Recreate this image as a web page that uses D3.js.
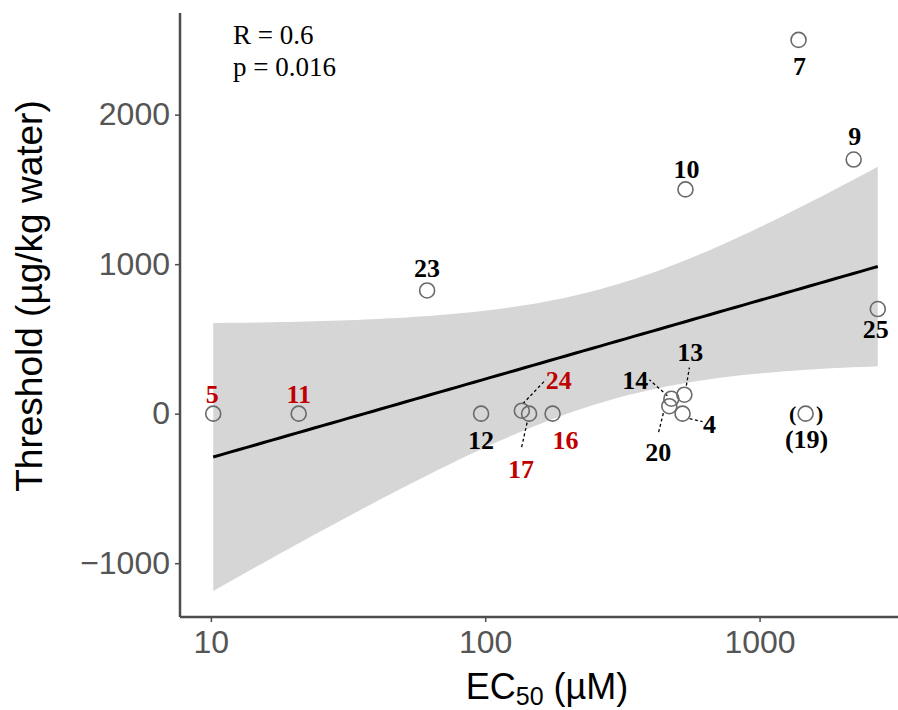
<!DOCTYPE html>
<html>
<head>
<meta charset="utf-8">
<script src="https://cdn.jsdelivr.net/npm/d3@7"></script>
<style>
  html, body { margin: 0; padding: 0; background: #ffffff; }
  svg { display: block; }
</style>
</head>
<body>
<svg id="chart" width="898" height="710"></svg>
<script>
// ---------------- data ----------------
const compounds = ["5", "11", "23", "12", "24", "17", "16", "10", "14", "20", "13", "4", "19", "7", "9", "25"];
const ec50 = [10.2, 20.9, 61.4, 96.6, 136, 144.5, 176, 537, 477, 469, 532, 524, 1472, 1387, 2203, 2697];
const threshold = [0, 0, 824, 0, 20, 0, 0, 1500, 100, 50, 127, 0, 0, 2500, 1700, 700];
const redCompounds = ["5", "11", "24", "17", "16"];
const bracketed = ["19"];
const xTicks = [10, 100, 1000];
const yTicks = [-1000, 0, 1000, 2000];
const statLines = ["R = 0.6", "p = 0.016"];

// ---------------- layout (label placement, pixels relative to point) ----------------
const labelLayout = {
  "5":  {dx: -1, dy: -11}, "11": {dx: 0, dy: -11}, "23": {dx: 0, dy: -13},
  "12": {dx: 0, dy: 35},   "24": {dx: 37, dy: -22}, "17": {dx: -8, dy: 64},
  "16": {dx: 13, dy: 35},  "10": {dx: 1, dy: -11},  "14": {dx: -36, dy: -10},
  "20": {dx: -11, dy: 55}, "13": {dx: 6, dy: -34},  "4":  {dx: 27, dy: 19},
  "19": {dx: 1, dy: 34},   "7":  {dx: 1, dy: 35},   "9":  {dx: 1, dy: -15},
  "25": {dx: -2, dy: 29}
};
const leaderLayout = {
  "14": [-4, -3, -22, -19], "13": [2, -9, 5, -27], "20": [-6, 7, -11, 27],
  "4": [7, 5, 20, 8], "24": [1, -7, 24, -31], "17": [-2, 9, -8, 36]
};

const W = 898, H = 710;
const panel = {left: 180, right: 911, top: 13, bottom: 617};

const svg = d3.select("#chart");
svg.append("rect").attr("width", W).attr("height", H).attr("fill", "#ffffff");

const pts = compounds.map((c, i) => ({id: c, x: ec50[i], y: threshold[i]}));

// ---------------- linear fit y ~ log10(x) with 95% CI ----------------
const lx = pts.map(d => Math.log10(d.x));
const n = pts.length;
const mx = d3.mean(lx), my = d3.mean(pts, d => d.y);
let sxx = 0, sxy = 0;
pts.forEach((d, i) => { sxx += (lx[i] - mx) ** 2; sxy += (lx[i] - mx) * (d.y - my); });
const slope = sxy / sxx, intercept = my - slope * mx;
let sse = 0;
pts.forEach((d, i) => { sse += (d.y - (intercept + slope * lx[i])) ** 2; });
const s = Math.sqrt(sse / (n - 2));
const tCrit = 2.1448; // t(0.975, df = 14)
const lxMin = d3.min(lx), lxMax = d3.max(lx);
const fit = d3.range(80).map(k => {
  const L = lxMin + (lxMax - lxMin) * k / 79;
  const yh = intercept + slope * L;
  const se = s * Math.sqrt(1 / n + (L - mx) ** 2 / sxx);
  return {x: Math.pow(10, L), y: yh, lo: yh - tCrit * se, hi: yh + tCrit * se};
});

// ---------------- scales ----------------
const xpad = (lxMax - lxMin) * 0.05;
const x = d3.scaleLog()
  .domain([Math.pow(10, lxMin - xpad), Math.pow(10, lxMax + xpad)])
  .range([panel.left, panel.right]);
const y = d3.scaleLinear()
  .domain([-1360, 2680])
  .range([panel.bottom, panel.top]);

// ---------------- band & line ----------------
svg.append("path")
  .datum(fit)
  .attr("d", d3.area().x(d => x(d.x)).y0(d => y(d.lo)).y1(d => y(d.hi)))
  .attr("fill", "#d6d6d6");
svg.append("path")
  .datum(fit)
  .attr("d", d3.line().x(d => x(d.x)).y(d => y(d.y)))
  .attr("fill", "none").attr("stroke", "#000").attr("stroke-width", 3);

// ---------------- axes ----------------
const axisColor = "#4d4d4d";
const gx = svg.append("g").attr("transform", `translate(0,${panel.bottom})`)
  .call(d3.axisBottom(x).tickValues(xTicks).tickFormat(d3.format("d")).tickSize(5).tickSizeOuter(0).tickPadding(8));
const gy = svg.append("g").attr("transform", `translate(${panel.left},0)`)
  .call(d3.axisLeft(y).tickValues(yTicks).tickFormat(d => d < 0 ? "\u2212" + Math.abs(d) : d).tickSize(5).tickSizeOuter(0).tickPadding(5));
[gx, gy].forEach(g => {
  g.select(".domain").attr("stroke", axisColor).attr("stroke-width", 2.5);
  g.selectAll(".tick line").attr("stroke", axisColor).attr("stroke-width", 1.5);
  g.selectAll(".tick text").attr("fill", "#555555")
    .style("font-family", "'Liberation Sans', Arial, sans-serif").style("font-size", "32px");
});
gx.select(".domain").attr("d", `M${panel.left},0H${W}`);
gy.select(".domain").attr("d", `M0,${panel.top}V${panel.bottom}`);

// axis titles
const xt = svg.append("text")
  .attr("x", 547).attr("y", 699).attr("text-anchor", "middle")
  .style("font-family", "'Liberation Sans', Arial, sans-serif").style("font-size", "36px").attr("fill", "#000");
xt.append("tspan").text("EC");
xt.append("tspan").attr("dy", 6).style("font-size", "25px").text("50");
xt.append("tspan").attr("dy", -6).text(" (\u00b5M)");

svg.append("text")
  .attr("transform", "translate(42,296) rotate(-90)")
  .attr("text-anchor", "middle")
  .style("font-family", "'Liberation Sans', Arial, sans-serif").style("font-size", "37px").attr("fill", "#000")
  .text("Threshold (\u00b5g/kg water)");

// ---------------- stats text ----------------
svg.selectAll("text.stat").data(statLines).join("text")
  .attr("class", "stat")
  .attr("x", 233).attr("y", (d, i) => 44 + i * 32)
  .style("font-family", "'Liberation Serif', 'Times New Roman', serif").style("font-size", "27px")
  .attr("fill", "#000").text(d => d);

// ---------------- leader lines ----------------
svg.selectAll("line.leader").data(pts.filter(d => leaderLayout[d.id])).join("line")
  .attr("class", "leader")
  .attr("x1", d => x(d.x) + leaderLayout[d.id][0]).attr("y1", d => y(d.y) + leaderLayout[d.id][1])
  .attr("x2", d => x(d.x) + leaderLayout[d.id][2]).attr("y2", d => y(d.y) + leaderLayout[d.id][3])
  .attr("stroke", "#000").attr("stroke-width", 1.3).attr("stroke-dasharray", "3,2.5");

// ---------------- points ----------------
svg.selectAll("circle.pt").data(pts).join("circle")
  .attr("class", "pt")
  .attr("cx", d => x(d.x)).attr("cy", d => y(d.y)).attr("r", 7.5)
  .attr("fill", "none").attr("stroke", "#6a6a6a").attr("stroke-width", 1.6);

// brackets around excluded point
const br = svg.selectAll("g.br").data(pts.filter(d => bracketed.includes(d.id))).join("g").attr("class", "br");
[["(", -13], [")", 14]].forEach(([ch, off]) => {
  br.append("text")
    .attr("x", d => x(d.x) + off).attr("y", d => y(d.y) + 7)
    .attr("text-anchor", "middle")
    .style("font-family", "'Liberation Serif', 'Times New Roman', serif").style("font-size", "22px")
    .style("font-weight", "bold").attr("fill", "#000").text(ch);
});

// ---------------- point labels ----------------
svg.selectAll("text.lab").data(pts).join("text")
  .attr("class", "lab")
  .attr("x", d => x(d.x) + labelLayout[d.id].dx)
  .attr("y", d => y(d.y) + labelLayout[d.id].dy)
  .attr("text-anchor", "middle")
  .style("font-family", "'Liberation Serif', 'Times New Roman', serif").style("font-size", "26px")
  .style("font-weight", "bold")
  .attr("fill", d => redCompounds.includes(d.id) ? "#c00000" : "#000")
  .text(d => bracketed.includes(d.id) ? "(" + d.id + ")" : d.id);
</script>
</body>
</html>
